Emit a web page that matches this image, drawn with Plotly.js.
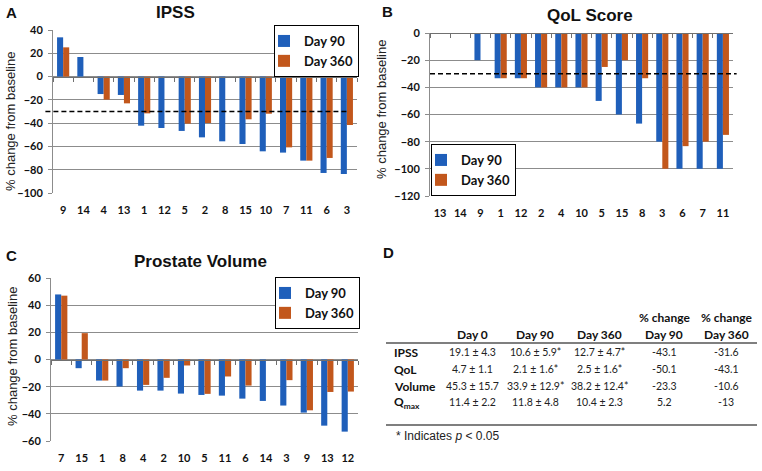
<!DOCTYPE html>
<html><head><meta charset="utf-8">
<script src="https://cdn.plot.ly/plotly-3.0.1.min.js"></script>
<style>html,body{margin:0;padding:0;background:#fff}#chart{width:762px;height:471px}</style>
</head><body><div id="chart"></div>
<script>
// ---------- data ----------
const seriesNames = ['Day 90', 'Day 360'];
const ipssPatients = ['9','14','4','13','1','12','5','2','8','15','10','7','11','6','3'];
const ipssDay90  = [33.7, 16.8, -15.0, -15.8, -42.2, -44.2, -46.7, -52.2, -55.6, -57.9, -64.2, -65.3, -72.2, -82.8, -83.7];
const ipssDay360 = [25.1, null, -19.8, -23.0, -31.6, null, -40.4, -39.9, null, -36.7, -31.9, -60.8, -72.2, -69.9, -41.6];
const qolPatients = ['13','14','9','1','12','2','4','10','5','15','8','3','6','7','11'];
const qolDay90  = [0, 0, -20, -33.3, -33.3, -40, -40, -40, -50, -60, -66.7, -80, -100, -100, -100];
const qolDay360 = [0, 0, 0, -33.3, -33.3, -40, -40, -40, -25, -20, -33.3, -100, -83.3, -80, -75];
const volPatients = ['7','15','1','8','4','2','10','5','11','6','14','3','9','13','12'];
const volDay90  = [47.9, -6.4, -15.5, -19.9, -22.9, -22.9, -25.1, -26.1, -26.6, -28.8, -30.5, -33.9, -39.1, -48.7, -53.1];
const volDay360 = [47.0, 19.4, -15.5, -6.4, -18.7, -13.5, -4.4, -25.3, -12.5, -19.2, null, -15.2, -37.4, -23.9, -23.6];
const responseThreshold = -30;
const panelTitles = ['IPSS', 'QoL Score', 'Prostate Volume'];
const panelLetters = ['A', 'B', 'C', 'D'];
const yAxisTitle = '% change from baseline';

const tableColumnGroups = ['', '', '', '% change', '% change'];
const tableColumns = ['Day 0', 'Day 90', 'Day 360', 'Day 90', 'Day 360'];
const tableRows = ['IPSS', 'QoL', 'Volume', 'Q<sub>max</sub>'];
const tableDay0   = ['19.1 ± 4.3', '4.7 ± 1.1', '45.3 ± 15.7', '11.4 ± 2.2'];
const tableDay90  = ['10.6 ± 5.9*', '2.1 ± 1.6*', '33.9 ± 12.9*', '11.8 ± 4.8'];
const tableDay360 = ['12.7 ± 4.7*', '2.5 ± 1.6*', '38.2 ± 12.4*', '10.4 ± 2.3'];
const tablePct90  = ['-43.1', '-50.1', '-23.3', '5.2'];
const tablePct360 = ['-31.6', '-43.1', '-10.6', '-13'];
const footnote = '* Indicates <i>p</i> &lt; 0.05';

// ---------- style ----------
const W = 762, H = 471;
const px = v => v / W;
const py = v => 1 - v / H;
const BLUE = '#1F5FBA', ORANGE = '#C2571C';
const GRID = '#8C8C8C', AXIS = '#707070';
const CAL = 'Lato, "Open Sans", sans-serif';
const ARIAL = '"Liberation Sans", Arial, sans-serif';
const colors = [BLUE, ORANGE];

const panels = [
  {cats: ipssPatients, s: [ipssDay90, ipssDay360], xr: [53, 357], yr: [30, 193], range: [-100, 40], legend: 'legend', threshold: [-0.025, 0.975]},
  {cats: qolPatients,  s: [qolDay90, qolDay360],   xr: [430, 733], yr: [33, 196], range: [-120, 0], legend: 'legend2', threshold: [0, 1.012]},
  {cats: volPatients,  s: [volDay90, volDay360],   xr: [51, 358], yr: [278, 441], range: [-60, 60], legend: 'legend3', threshold: null}
];

const data = [];
const layout = {
  width: W, height: H,
  margin: {l: 0, r: 0, t: 0, b: 0},
  paper_bgcolor: '#fff', plot_bgcolor: '#fff',
  barmode: 'group', bargap: 0.4, bargroupgap: 0,
  showlegend: true,
  annotations: [], shapes: []
};

panels.forEach((p, i) => {
  const n = i === 0 ? '' : String(i + 1);
  const zn = String(i + 4);
  const xa = 'x' + n, ya = 'y' + n;
  p.s.forEach((vals, k) => {
    data.push({
      type: 'bar', name: seriesNames[k], x: p.cats, y: vals,
      xaxis: xa, yaxis: ya, legend: p.legend,
      marker: {color: colors[k], line: {width: 0}},
      hoverinfo: 'skip'
    });
  });
  // helper trace registering categories on the zero-line axis
  data.push({type: 'scatter', mode: 'markers', x: p.cats, y: p.cats.map(() => null),
    xaxis: 'x' + zn, yaxis: ya, showlegend: false, hoverinfo: 'skip'});

  const yDom = [py(p.yr[1]), py(p.yr[0])];
  const xDom = [px(p.xr[0]), px(p.xr[1])];
  layout['xaxis' + n] = {
    domain: xDom, anchor: ya, type: 'category', categoryorder: 'array', categoryarray: p.cats,
    range: [-0.5, p.cats.length - 0.5], showline: false, showgrid: false, zeroline: false,
    ticks: '', ticklabelstandoff: 9, tickfont: {family: CAL, size: 11, color: '#111', weight: 'bold'},
    fixedrange: true
  };
  layout['yaxis' + n] = {
    domain: yDom, anchor: xa, range: p.range, dtick: 20, tick0: 0,
    showgrid: true, gridcolor: GRID, gridwidth: 1, zeroline: false,
    showline: true, linecolor: GRID, linewidth: 1,
    ticks: 'outside', ticklen: 4, tickcolor: GRID, ticklabelstandoff: 3,
    tickfont: {family: CAL, size: 11, color: '#111', weight: 'bold'},
    fixedrange: true
  };
  const zeroPos = yDom[0] + (0 - p.range[0]) / (p.range[1] - p.range[0]) * (yDom[1] - yDom[0]);
  layout['xaxis' + zn] = {
    overlaying: xa, anchor: 'free', position: zeroPos, domain: xDom,
    type: 'category', categoryorder: 'array', categoryarray: p.cats,
    range: [-0.5, p.cats.length - 0.5], showline: true, linecolor: AXIS, linewidth: 1,
    ticks: 'outside', tickson: 'boundaries', ticklen: 4, tickcolor: AXIS,
    showticklabels: false, showgrid: false, zeroline: false, fixedrange: true
  };
  // response threshold line (panels A and B only)
  if (p.threshold) {
    layout.shapes.push({
      type: 'line', xref: xa + ' domain', yref: ya,
      x0: p.threshold[0], x1: p.threshold[1],
      y0: responseThreshold, y1: responseThreshold,
      line: {color: '#000', width: 1.6, dash: '5px,3px'}
    });
  }
});

// legends
const legBase = {bgcolor: '#fff', bordercolor: '#000', borderwidth: 1,
  font: {family: CAL, size: 13, color: '#111', weight: 'bold'},
  itemwidth: 30, indentation: -11, traceorder: 'normal', tracegroupgap: 0};
layout.legend  = Object.assign({}, legBase, {x: px(359), xanchor: 'right', y: py(25), yanchor: 'top'});
layout.legend2 = Object.assign({}, legBase, {x: px(431), xanchor: 'left', y: py(196), yanchor: 'bottom'});
layout.legend3 = Object.assign({}, legBase, {x: px(360), xanchor: 'right', y: py(277), yanchor: 'top'});

const ann = layout.annotations;
const addText = (text, x, y, opts) => ann.push(Object.assign({
  text: text, xref: 'paper', yref: 'paper', x: px(x), y: py(y),
  showarrow: false, xanchor: 'center', yanchor: 'middle'
}, opts));

// panel titles
const titlePos = [[175, 13], [590, 16], [200, 261]];
panelTitles.forEach((t, i) => addText(t, titlePos[i][0], titlePos[i][1],
  {font: {family: ARIAL, size: 17, color: '#111', weight: 'bold'}}));
// panel letters
const letterPos = [[11, 13], [387, 12], [11, 255], [388, 252]];
panelLetters.forEach((t, i) => addText(t, letterPos[i][0], letterPos[i][1],
  {font: {family: ARIAL, size: 15, color: '#111', weight: 'bold'}}));
// y axis titles
const yTitlePos = [[11, 122], [382, 110], [12, 357]];
yTitlePos.forEach(pt => addText(yAxisTitle, pt[0], pt[1],
  {textangle: -90, font: {family: ARIAL, size: 13, color: '#222'}}));

// table D
const colX = [472, 535, 599, 664, 726];
const rowY = [352, 369, 386, 402];
const hdrFont = {family: CAL, size: 12, color: '#111', weight: 'bold'};
const valFont = {family: CAL, size: 10.5, color: '#222'};
tableColumns.forEach((c, j) => {
  if (tableColumnGroups[j]) addText(tableColumnGroups[j], colX[j], 317, {font: hdrFont});
  addText(c, colX[j], 334, {font: hdrFont});
});
const tableCols = [tableDay0, tableDay90, tableDay360, tablePct90, tablePct360];
tableRows.forEach((r, i) => {
  addText(r, 392, rowY[i], {xanchor: 'left', font: hdrFont});
  tableCols.forEach((col, j) => addText(col[i], colX[j], rowY[i], {font: valFont}));
});
addText(footnote, 394, 436, {xanchor: 'left', font: {family: ARIAL, size: 12, color: '#222'}});
layout.shapes.push(
  {type: 'line', xref: 'paper', yref: 'paper', x0: px(386), x1: px(757), y0: py(343), y1: py(343), line: {color: '#555', width: 1.5}},
  {type: 'line', xref: 'paper', yref: 'paper', x0: px(386), x1: px(757), y0: py(425), y1: py(425), line: {color: '#555', width: 1.5}}
);

Plotly.newPlot('chart', data, layout, {displayModeBar: false, staticPlot: true});
</script>
</body></html>
